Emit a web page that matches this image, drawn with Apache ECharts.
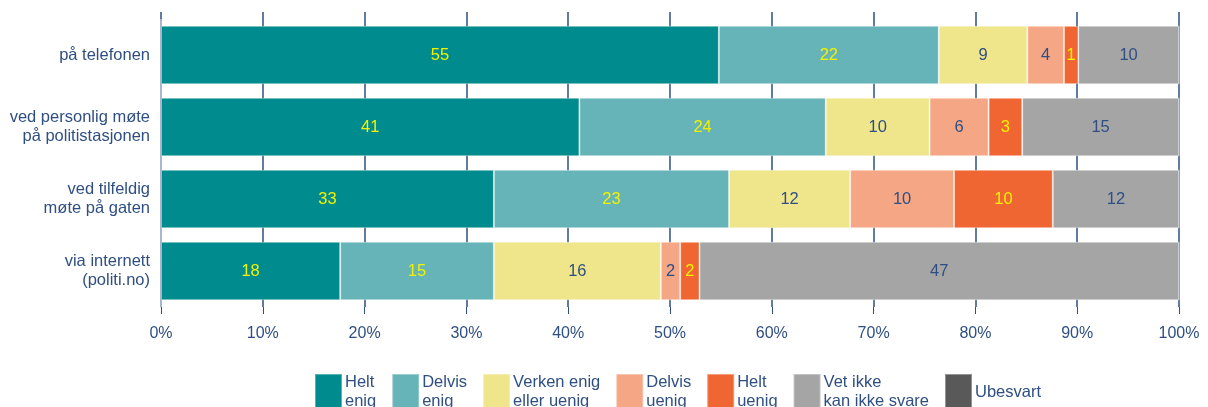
<!DOCTYPE html>
<html>
<head>
<meta charset="utf-8">
<script src="https://cdn.jsdelivr.net/npm/echarts@6/dist/echarts.min.js"></script>
<style>
  html, body { margin: 0; padding: 0; background: #fff; }
  #chart { width: 1208px; height: 407px; }
</style>
</head>
<body>
<div id="chart"></div>
<script>
var categories = ['på telefonen', 'ved personlig møte\npå politistasjonen', 'ved tilfeldig\nmøte på gaten', 'via internett\n(politi.no)'];
var xTicks = [0, 10, 20, 30, 40, 50, 60, 70, 80, 90, 100];

// andeler i prosent (etiketter vises avrundet)
var heltEnig    = [54.8, 41.1, 32.7, 17.6];
var delvisEnig  = [21.6, 24.2, 23.1, 15.1];
var verken      = [8.7, 10.2, 11.9, 16.4];
var delvisUenig = [3.6, 5.8, 10.2, 1.9];
var heltUenig   = [1.4, 3.3, 9.7, 1.9];
var vetIkke     = [9.9, 15.4, 12.4, 47.1];
var ubesvart    = [0, 0, 0, 0];

var NAVY = '#2f4f83';
var YELLOW = '#f2f200';

function makeSeries(name, data, color, labelColor) {
    return {
        name: name,
        type: 'bar',
        stack: 'total',
        barCategoryGap: '19%',
        data: data,
        itemStyle: {
            color: color,
            borderColor: 'rgba(255,255,255,0.35)',
            borderWidth: 1
        },
        label: {
            show: true,
            position: 'inside',
            color: labelColor,
            fontSize: 16.5,
            formatter: function (p) {
                return p.value > 0 ? Math.round(p.value) : '';
            }
        }
    };
}

var chart = echarts.init(document.getElementById('chart'));
var axisCommon = {
    type: 'value',
    min: 0,
    max: 100,
    interval: 10
};
var option = {
    animation: false,
    textStyle: { fontFamily: 'Liberation Sans, Arial, sans-serif' },
    grid: { left: 161, right: 29, top: 19, bottom: 100 },
    legend: {
        left: 309,
        top: 366,
        itemWidth: 27,
        itemHeight: 36,
        itemGap: 15,
        icon: 'rect',
        textStyle: { color: NAVY, fontSize: 16.5, lineHeight: 19, padding: [4, 0, 0, -2] },
        data: ['Helt\nenig', 'Delvis\nenig', 'Verken enig\neller uenig', 'Delvis\nuenig', 'Helt\nuenig', 'Vet ikke\nkan ikke svare', 'Ubesvart']
    },
    xAxis: [
        Object.assign({}, axisCommon, {
            position: 'bottom',
            axisLine: { show: false },
            axisTick: { show: true, length: 7, lineStyle: { color: NAVY } },
            axisLabel: {
                color: NAVY,
                fontSize: 16,
                margin: 19,
                formatter: function (v) { return xTicks.indexOf(v) >= 0 ? v + '%' : ''; }
            },
            splitLine: { show: true, lineStyle: { color: NAVY, width: 1.5 } }
        }),
        Object.assign({}, axisCommon, {
            position: 'top',
            axisLine: { show: false },
            axisTick: { show: true, length: 7, lineStyle: { color: NAVY, width: 1.5 } },
            axisLabel: { show: false },
            splitLine: { show: false }
        })
    ],
    yAxis: {
        type: 'category',
        data: categories,
        inverse: true,
        axisLine: { show: true, lineStyle: { color: '#c2cbdc', width: 1.5 } },
        axisTick: { show: false },
        axisLabel: { color: NAVY, fontSize: 16.5, lineHeight: 19, margin: 11, align: 'right' }
    },
    series: [
        makeSeries('Helt\nenig', heltEnig, '#008b8e', YELLOW),
        makeSeries('Delvis\nenig', delvisEnig, '#66b4b7', YELLOW),
        makeSeries('Verken enig\neller uenig', verken, '#efe58b', NAVY),
        makeSeries('Delvis\nuenig', delvisUenig, '#f5a785', NAVY),
        makeSeries('Helt\nuenig', heltUenig, '#ef6632', YELLOW),
        makeSeries('Vet ikke\nkan ikke svare', vetIkke, '#a5a5a5', NAVY),
        makeSeries('Ubesvart', ubesvart, '#595959', NAVY)
    ]
};
chart.setOption(option);
</script>
</body>
</html>
